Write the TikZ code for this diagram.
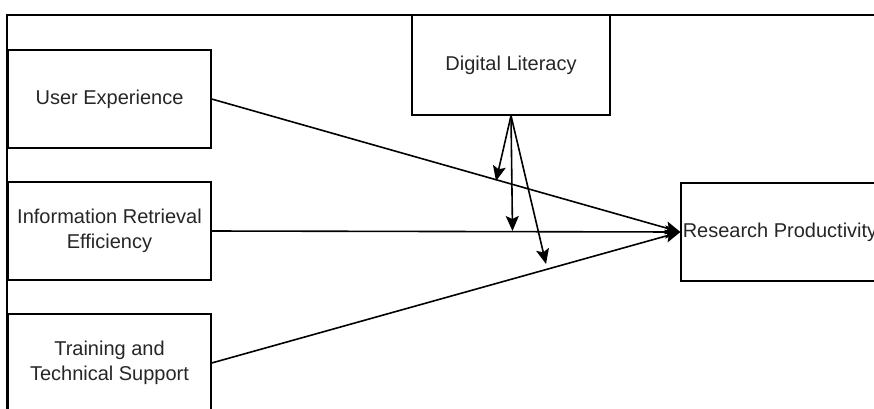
\documentclass[tikz,border=0pt]{standalone}
\usepackage{fontspec}
\setmainfont{Liberation Sans}
\usetikzlibrary{arrows.meta}
\begin{document}
\begin{tikzpicture}[x=1pt,y=-1pt,
  box/.style={draw=black,line width=1.3pt,minimum width=203pt,minimum height=98pt,
    inner sep=0pt,align=center,font=\fontsize{20}{25}\selectfont,text=black!85},
  link/.style={line width=1.6pt,-{Stealth[length=15pt,width=13pt,inset=3pt]}}]
\useasboundingbox (0,0) rectangle (874,408);
\clip (0,0) rectangle (874,408);
% outer frame
\draw[line width=2pt] (7,430) -- (7,15) -- (900,15);
% constructs
\node[box] (ue)  at (109.5,99)  {User Experience};
\node[box] (ire) at (109.5,231) {Information Retrieval\\Efficiency};
\node[box] (tts) at (109.5,363) {Training and\\Technical Support};
\node[box,minimum width=198pt,minimum height=100pt] (dl) at (511,65) {Digital Literacy};
\node[box,minimum width=198pt] (rp) at (780,232) {Research Productivity};
% moderation targets
\coordinate (m1) at (496,181);
\coordinate (m2) at (512.5,231);
\coordinate (m3) at (546,264);
% direct effects
\draw[link] (ue.east) -- (rp.west);
\draw[link] (ire.east) -- (rp.west);
\draw[link] (tts.east) -- (rp.west);
% moderating effects
\draw[link] (dl.south) -- (m1);
\draw[link] (dl.south) -- (m2);
\draw[link] (dl.south) -- (m3);
\end{tikzpicture}
\end{document}
